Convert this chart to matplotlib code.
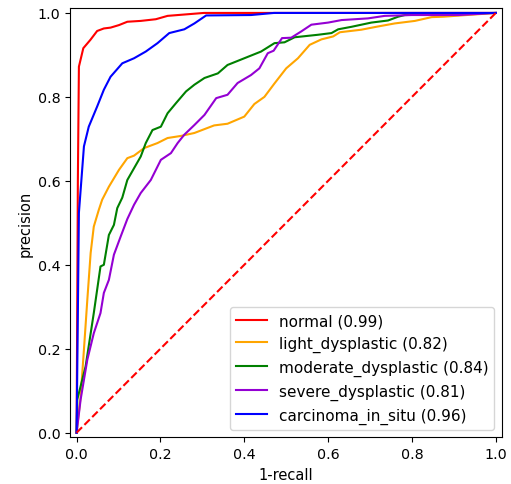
import numpy as np
import matplotlib
matplotlib.use("Agg")
import matplotlib.pyplot as plt

# curves (x = 1-recall, y = precision)
normal_x = [0, 0.003, 0.0055, 0.016, 0.033, 0.049, 0.065, 0.081, 0.101, 0.121, 0.153, 0.189, 0.217, 0.304, 1.0]
normal_y = [0, 0.60, 0.872, 0.916, 0.936, 0.957, 0.963, 0.965, 0.971, 0.979, 0.981, 0.985, 0.993, 1.0, 1.0]

light_x = [0, 0.0096, 0.0175, 0.0256, 0.0335, 0.041, 0.053, 0.061, 0.077, 0.101, 0.121, 0.137, 0.161, 0.193,
           0.217, 0.249, 0.281, 0.328, 0.36, 0.40, 0.424, 0.448, 0.472, 0.50, 0.528, 0.556, 0.584, 0.612,
           0.628, 0.679, 0.715, 0.759, 0.807, 0.847, 0.875, 1.0]
light_y = [0, 0.086, 0.198, 0.317, 0.428, 0.491, 0.531, 0.555, 0.586, 0.626, 0.654, 0.660, 0.678, 0.690,
           0.702, 0.707, 0.714, 0.732, 0.736, 0.753, 0.783, 0.800, 0.832, 0.868, 0.892, 0.924, 0.937, 0.944,
           0.954, 0.960, 0.967, 0.975, 0.981, 0.990, 0.991, 1.0]

moderate_x = [0, 0.0016, 0.0215, 0.041, 0.057, 0.065, 0.077, 0.089, 0.097, 0.109, 0.121, 0.137, 0.153, 0.165,
              0.181, 0.201, 0.217, 0.237, 0.261, 0.281, 0.305, 0.337, 0.36, 0.40, 0.44, 0.472, 0.496, 0.52,
              0.576, 0.608, 0.624, 0.656, 0.703, 0.743, 0.767, 0.783, 1.0]
moderate_y = [0, 0.079, 0.158, 0.285, 0.396, 0.40, 0.471, 0.495, 0.535, 0.560, 0.602, 0.630, 0.658, 0.690,
              0.721, 0.729, 0.761, 0.785, 0.813, 0.829, 0.845, 0.856, 0.876, 0.892, 0.908, 0.928, 0.930, 0.942,
              0.948, 0.952, 0.961, 0.967, 0.977, 0.982, 0.991, 0.995, 1.0]

severe_x = [0, 0.0096, 0.0256, 0.041, 0.057, 0.065, 0.077, 0.089, 0.105, 0.121, 0.137, 0.153, 0.177, 0.201,
            0.225, 0.241, 0.257, 0.281, 0.305, 0.333, 0.36, 0.384, 0.416, 0.436, 0.456, 0.470, 0.490, 0.512,
            0.536, 0.56, 0.60, 0.632, 0.695, 0.735, 0.799, 0.911, 1.0]
severe_y = [0, 0.079, 0.174, 0.237, 0.285, 0.333, 0.364, 0.424, 0.467, 0.509, 0.543, 0.571, 0.602, 0.650,
            0.666, 0.690, 0.710, 0.733, 0.757, 0.797, 0.805, 0.833, 0.852, 0.868, 0.904, 0.910, 0.940, 0.941,
            0.956, 0.972, 0.977, 0.983, 0.987, 0.993, 0.995, 0.995, 1.0]

carcinoma_x = [0, 0.0055, 0.0175, 0.029, 0.049, 0.065, 0.081, 0.109, 0.137, 0.165, 0.193, 0.221, 0.257,
               0.281, 0.309, 0.416, 0.471, 1.0]
carcinoma_y = [0, 0.524, 0.682, 0.729, 0.777, 0.817, 0.848, 0.880, 0.892, 0.908, 0.928, 0.952, 0.961,
               0.975, 0.994, 0.995, 1.0, 1.0]

names = ["normal", "light_dysplastic", "moderate_dysplastic", "severe_dysplastic", "carcinoma_in_situ"]
scores = [0.99, 0.82, 0.84, 0.81, 0.96]
colors = ["red", "orange", "green", "darkviolet", "blue"]
xs = [normal_x, light_x, moderate_x, severe_x, carcinoma_x]
ys = [normal_y, light_y, moderate_y, severe_y, carcinoma_y]

fig = plt.figure(figsize=(5.11, 4.85), dpi=100)
ax = fig.add_axes([0.1376, 0.0963, 0.845, 0.8845])

for x, y, n, s, c in zip(xs, ys, names, scores, colors):
    ax.plot(x, y, color=c, lw=1.5, label="%s (%.2f)" % (n, s))

ax.plot([0, 1], [0, 1], color="red", lw=1.5, ls="--")
ax.set_xlim(-0.015, 1.015)
ax.set_ylim(-0.011, 1.011)
ax.tick_params(labelsize=10.3)
ax.set_xlabel("1-recall", fontsize=10.5)
ax.set_ylabel("precision", fontsize=10.5)
ax.legend(loc="lower right", fontsize=11)

fig.savefig("out.png", dpi=100)
